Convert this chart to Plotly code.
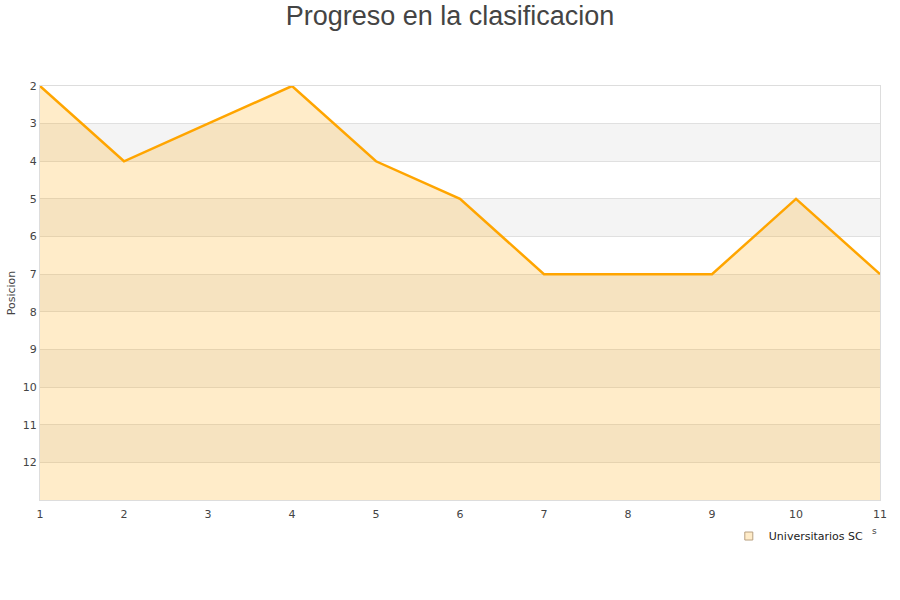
import plotly.graph_objects as go

jornadas = [1, 2, 3, 4, 5, 6, 7, 8, 9, 10, 11]
posiciones = [2, 4, 3, 2, 4, 5, 7, 7, 7, 5, 7]
equipo = "Universitarios SC"
y_ticks = [2, 3, 4, 5, 6, 7, 8, 9, 10, 11, 12]
y_min, y_max = 2, 13

fig = go.Figure()

# baseline for the fill (bottom of reversed axis)
fig.add_trace(go.Scatter(x=jornadas, y=[y_max] * len(jornadas), mode="lines",
                         line=dict(width=0, color="rgba(0,0,0,0)"),
                         showlegend=False, hoverinfo="skip"))
fig.add_trace(go.Scatter(x=jornadas, y=posiciones, mode="lines", name=equipo,
                         fill="tonexty", fillcolor="rgba(255,165,0,0.21)",
                         line=dict(color="#FFA500", width=2.5),
                         showlegend=False))
# legend entry with square symbol
fig.add_trace(go.Scatter(x=[None], y=[None], mode="markers", name=equipo,
                         marker=dict(symbol="square", size=8,
                                     color="#FFECC9",
                                     line=dict(color="#B8A080", width=1))))

# alternating bands
shapes = []
for y0 in range(3, y_max, 2):
    shapes.append(dict(type="rect", xref="paper", yref="y", x0=0, x1=1,
                       y0=y0, y1=y0 + 1, fillcolor="#F4F4F4",
                       line=dict(width=0), layer="below"))

fig.update_layout(
    width=900, height=600,
    margin=dict(l=40, r=20, t=86, b=100),
    paper_bgcolor="white", plot_bgcolor="white",
    title=dict(text="Progreso en la clasificacion", x=0.5, xanchor="center",
               y=1 - 16 / 600, yanchor="middle",
               font=dict(family="Liberation Sans, Arial, sans-serif", size=27, color="#444444")),
    font=dict(family="DejaVu Sans, sans-serif", size=11, color="#444444"),
    shapes=shapes,
    showlegend=True,
    legend=dict(orientation="h", x=0.82, xanchor="left", y=-0.052, yanchor="top",
                font=dict(size=11, color="#222222"), bgcolor="rgba(0,0,0,0)"),
    xaxis=dict(range=[1, 11], tickvals=jornadas, ticktext=[str(j) for j in jornadas],
               showgrid=False, zeroline=False, showline=True, linecolor="#DDDDDD",
               linewidth=1, mirror=True, ticks="outside", ticklen=4,
               tickcolor="rgba(0,0,0,0)", tickfont=dict(size=11, color="#444444"),
               automargin=False),
    yaxis=dict(range=[y_max, y_min], tickvals=y_ticks,
               showgrid=True, gridcolor="#E0E0E0", gridwidth=1, zeroline=False,
               showline=True, linecolor="#DDDDDD", linewidth=1, mirror=True,
               ticks="", ticklen=0, tickfont=dict(size=11, color="#444444"),
               automargin=False,
               title=dict(text="Posicion", font=dict(size=11), standoff=4)),
)

fig.add_annotation(text="s", xref="paper", yref="paper", x=0.994, y=-0.075,
                   showarrow=False, font=dict(size=9, color="#444444"),
                   xanchor="center", yanchor="middle")

fig.write_html("out.html", config={"displayModeBar": False},
               post_script="document.body.style.margin='0';")
